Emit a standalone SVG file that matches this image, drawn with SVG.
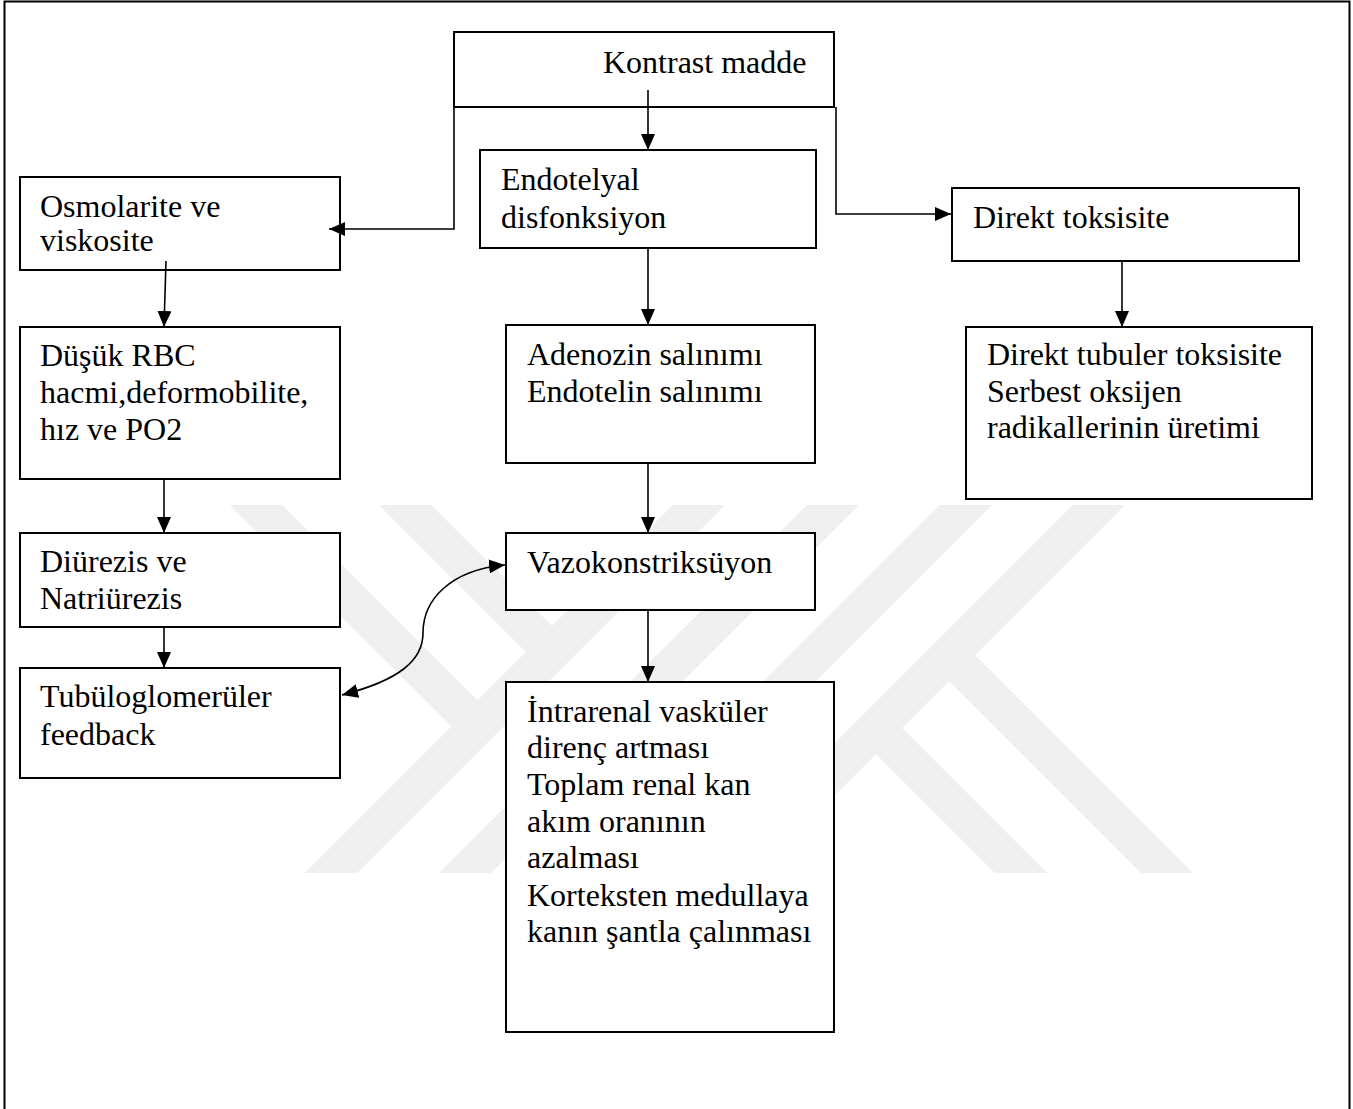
<svg xmlns="http://www.w3.org/2000/svg" width="1353" height="1109" viewBox="0 0 1353 1109">
<style>
.box{fill:#fff;stroke:#000;stroke-width:2}
.t{font-family:"Liberation Serif","Times New Roman",serif;font-size:32px;fill:#000}
.c{fill:none;stroke:#000;stroke-width:1.6}
.wm{fill:none;stroke:#efefef;stroke-width:37;stroke-linecap:butt}
</style>
<defs>
<marker id="ah" markerUnits="userSpaceOnUse" markerWidth="16" markerHeight="14" refX="16" refY="7" orient="auto-start-reverse">
<path d="M0,0 L16,7 L0,14 z" fill="#000"/>
</marker>
<clipPath id="wmclip"><rect x="0" y="505" width="1353" height="368"/></clipPath>
</defs>
<rect width="1353" height="1109" fill="#fff"/>
<rect x="4.5" y="1.5" width="1345" height="1130" fill="none" stroke="#000" stroke-width="2"/>
<g id="watermark" clip-path="url(#wmclip)">
<path class="wm" d="M719,485 L311,893"/>
<path class="wm" d="M853,485 L445,893"/>
<path class="wm" d="M986,485 L578,893"/>
<path class="wm" d="M1119,485 L711,893"/>
<path class="wm" d="M949,655 L1187,893"/>
<path class="wm" d="M876,728 L1041,893"/>
<path class="wm" d="M236,485 L478,727"/>
<path class="wm" d="M385,485 L552,652"/>
</g>
<g id="kontrast">
<rect class="box" x="454" y="32" width="380" height="75"/>
<text class="t" x="603" y="73">Kontrast madde</text>
</g>
<g id="endotelyal">
<rect class="box" x="480" y="150" width="336" height="98"/>
<text class="t" x="501" y="190">Endotelyal</text>
<text class="t" x="501" y="228">disfonksiyon</text>
</g>
<g id="osmolarite">
<rect class="box" x="20" y="177" width="320" height="93"/>
<text class="t" x="40" y="217">Osmolarite ve</text>
<text class="t" x="40" y="251">viskosite</text>
</g>
<g id="dusuk">
<rect class="box" x="20" y="327" width="320" height="152"/>
<text class="t" x="40" y="366">Düşük RBC</text>
<text class="t" x="40" y="403">hacmi,deformobilite,</text>
<text class="t" x="40" y="440">hız ve PO2</text>
</g>
<g id="diurezis">
<rect class="box" x="20" y="533" width="320" height="94"/>
<text class="t" x="40" y="572">Diürezis ve</text>
<text class="t" x="40" y="609">Natriürezis</text>
</g>
<g id="tubulo">
<rect class="box" x="20" y="668" width="320" height="110"/>
<text class="t" x="40" y="707">Tubüloglomerüler</text>
<text class="t" x="40" y="745">feedback</text>
</g>
<g id="direkt">
<rect class="box" x="952" y="188" width="347" height="73"/>
<text class="t" x="973" y="228">Direkt toksisite</text>
</g>
<g id="direkt-tubuler">
<rect class="box" x="966" y="327" width="346" height="172"/>
<text class="t" x="987" y="365">Direkt tubuler toksisite</text>
<text class="t" x="987" y="402">Serbest oksijen</text>
<text class="t" x="987" y="438">radikallerinin üretimi</text>
</g>
<g id="adenozin">
<rect class="box" x="506" y="325" width="309" height="138"/>
<text class="t" x="527" y="365">Adenozin salınımı</text>
<text class="t" x="527" y="402">Endotelin salınımı</text>
</g>
<g id="vazo">
<rect class="box" x="506" y="533" width="309" height="77"/>
<text class="t" x="527" y="573">Vazokonstriksüyon</text>
</g>
<g id="intrarenal">
<rect class="box" x="506" y="682" width="328" height="350"/>
<text class="t" x="527" y="722">İntrarenal vasküler</text>
<text class="t" x="527" y="758">direnç artması</text>
<text class="t" x="527" y="795">Toplam renal kan</text>
<text class="t" x="527" y="832">akım oranının</text>
<text class="t" x="527" y="868">azalması</text>
<text class="t" x="527" y="906">Korteksten medullaya</text>
<text class="t" x="527" y="942">kanın şantla çalınması</text>
</g>
<g id="connectors">
<line class="c" x1="648" y1="90" x2="648" y2="150" marker-end="url(#ah)"/>
<polyline class="c" points="454,107 454,229 329,229" marker-end="url(#ah)"/>
<polyline class="c" points="836,107 836,214 951,214" marker-end="url(#ah)"/>
<line class="c" x1="166" y1="261" x2="164" y2="327" marker-end="url(#ah)"/>
<line class="c" x1="164" y1="479" x2="164" y2="533" marker-end="url(#ah)"/>
<line class="c" x1="164" y1="627" x2="164" y2="668" marker-end="url(#ah)"/>
<line class="c" x1="648" y1="248" x2="648" y2="325" marker-end="url(#ah)"/>
<line class="c" x1="648" y1="463" x2="648" y2="533" marker-end="url(#ah)"/>
<line class="c" x1="648" y1="610" x2="648" y2="682" marker-end="url(#ah)"/>
<line class="c" x1="1122" y1="261" x2="1122" y2="327" marker-end="url(#ah)"/>
<path class="c" d="M342,695 C400,680 423,660 423,633 C423,600 450,570 505,565" marker-start="url(#ah)" marker-end="url(#ah)"/>
</g>
</svg>
